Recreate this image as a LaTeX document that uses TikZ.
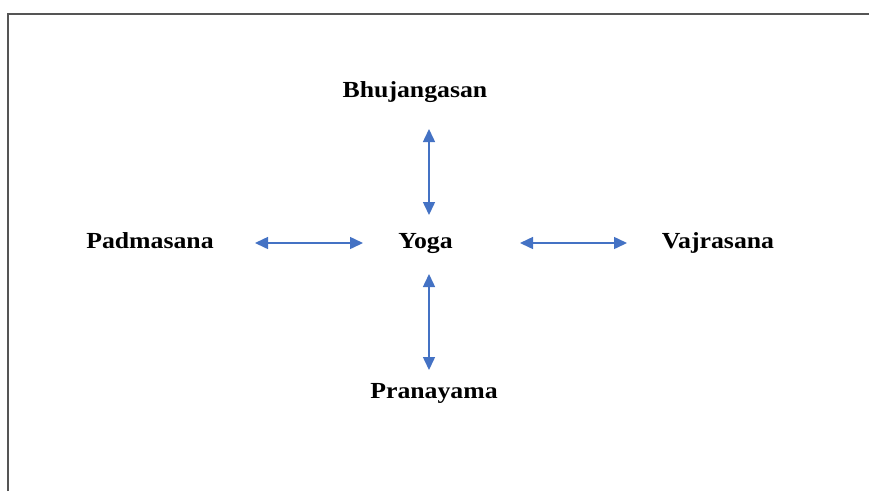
\documentclass[tikz,border=0pt]{standalone}
\usepackage{fontspec}
\newfontfamily\lblfont{Liberation Serif}[FakeStretch=1.12]
\usetikzlibrary{arrows.meta}
\definecolor{arrblue}{HTML}{4472C4}
\definecolor{framegray}{HTML}{555555}
\begin{document}
\begin{tikzpicture}[x=1pt,y=-1pt,
  lbl/.style={font=\lblfont\bfseries\fontsize{23}{28}\selectfont, inner sep=0pt, anchor=base},
  arr/.style={draw=arrblue, line width=1.5pt, {Triangle[length=13pt,width=12pt]}-{Triangle[length=13pt,width=12pt]}}]
\useasboundingbox (0,0) rectangle (869,491);
\draw[framegray, line width=1.6pt] (8,491) -- (8,14) -- (869,14);
\node[lbl] (bhuj) at (415,97) {Bhujangasan};
\node[lbl] (pad) at (150,248) {Padmasana};
\node[lbl] (yoga) at (425.5,248) {Yoga};
\node[lbl] (vaj) at (718,248) {Vajrasana};
\node[lbl] (pran) at (434,398) {Pranayama};
\coordinate (hL1) at (255,243);
\coordinate (hL2) at (363,243);
\coordinate (hR1) at (520,243);
\coordinate (hR2) at (627,243);
\coordinate (vT1) at (429,129);
\coordinate (vT2) at (429,215);
\coordinate (vB1) at (429,274);
\coordinate (vB2) at (429,370);
\draw[arr] (hL1) -- (hL2);
\draw[arr] (hR1) -- (hR2);
\draw[arr] (vT1) -- (vT2);
\draw[arr] (vB1) -- (vB2);
\end{tikzpicture}
\end{document}
